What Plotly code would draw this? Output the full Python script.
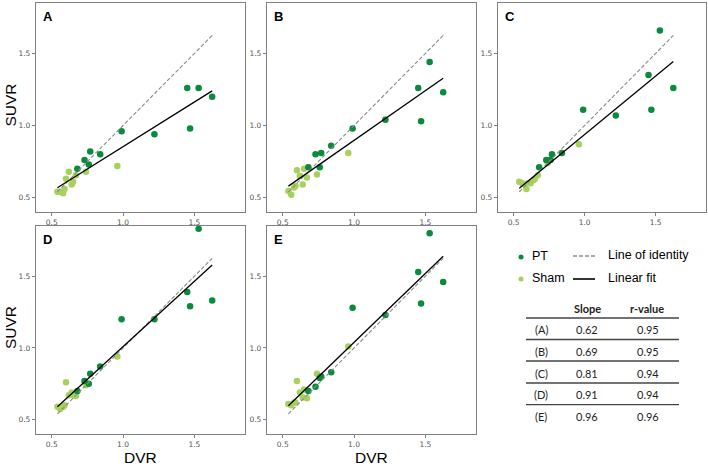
import plotly.graph_objects as go

# ---------------- data ----------------
PANELS = ["A", "B", "C", "D", "E"]
DVR_PT = [0.68, 0.73, 0.76, 0.77, 0.84, 0.99, 1.22, 1.45, 1.47, 1.53, 1.625]
DVR_SHAM = [0.54, 0.56, 0.58, 0.59, 0.60, 0.62, 0.64, 0.65, 0.67, 0.74, 0.96]

SUVR_PT_A = [0.70, 0.76, 0.73, 0.82, 0.80, 0.96, 0.94, 1.26, 0.98, 1.26, 1.20]
SUVR_PT_B = [0.71, 0.80, 0.71, 0.81, 0.86, 0.98, 1.04, 1.26, 1.03, 1.44, 1.23]
SUVR_PT_C = [0.71, 0.76, 0.76, 0.80, 0.81, 1.11, 1.07, 1.35, 1.11, 1.66, 1.26]
SUVR_PT_D = [0.70, 0.77, 0.75, 0.82, 0.87, 1.20, 1.20, 1.39, 1.29, 1.83, 1.33]
SUVR_PT_E = [0.70, 0.73, 0.79, 0.80, 0.83, 1.28, 1.23, 1.53, 1.31, 1.80, 1.46]

SUVR_SHAM_A = [0.54, 0.54, 0.53, 0.56, 0.63, 0.68, 0.59, 0.61, 0.655, 0.68, 0.72]
SUVR_SHAM_B = [0.545, 0.52, 0.57, 0.58, 0.69, 0.65, 0.59, 0.70, 0.64, 0.66, 0.81]
SUVR_SHAM_C = [0.61, 0.60, 0.59, 0.56, 0.60, 0.60, 0.62, 0.63, 0.655, 0.74, 0.87]
SUVR_SHAM_D = [0.59, 0.575, 0.59, 0.60, 0.76, 0.67, 0.69, 0.67, 0.665, 0.74, 0.94]
SUVR_SHAM_E = [0.61, 0.60, 0.62, 0.62, 0.77, 0.69, 0.655, 0.71, 0.65, 0.82, 1.01]

SLOPES = [0.62, 0.69, 0.81, 0.91, 0.96]
INTERCEPTS = [0.233, 0.207, 0.128, 0.099, 0.079]
R_VALUES = [0.95, 0.95, 0.94, 0.94, 0.96]

TICKS = [0.5, 1.0, 1.5]

SUVR_PT = [SUVR_PT_A, SUVR_PT_B, SUVR_PT_C, SUVR_PT_D, SUVR_PT_E]
SUVR_SHAM = [SUVR_SHAM_A, SUVR_SHAM_B, SUVR_SHAM_C, SUVR_SHAM_D, SUVR_SHAM_E]

# ---------------- layout helpers ----------------
W, H = 708, 467
def px(x):
    return x / W
def py(y):
    return 1 - y / H

COLS = [(36, 245), (267, 476), (498, 706)]
ROWS = [(3, 212), (226, 434)]
POS = [(0, 0), (0, 1), (0, 2), (1, 0), (1, 1)]

PT_COLOR = "#0a8a3c"
SHAM_COLOR = "#a8d05c"
AXIS_COLOR = "#808080"
TICK_FONT = dict(family="DejaVu Sans", size=7.5, color="#555555")

fig = go.Figure()
layout = dict(
    width=W, height=H,
    margin=dict(l=0, r=0, t=0, b=0),
    paper_bgcolor="white", plot_bgcolor="white",
    showlegend=False,
)

xmin = min(DVR_PT + DVR_SHAM)
xmax = max(DVR_PT + DVR_SHAM)
annotations = []
shapes = []

def ann(text, x, y, font, xanchor="center", yanchor="middle", **kw):
    d = dict(text=text, xref="paper", yref="paper", x=px(x), y=py(y),
             xanchor=xanchor, yanchor=yanchor, showarrow=False, font=font)
    d.update(kw)
    annotations.append(d)

for i, name in enumerate(PANELS):
    r, c = POS[i]
    xa = "x" if i == 0 else f"x{i+1}"
    ya = "y" if i == 0 else f"y{i+1}"
    xkey = "xaxis" if i == 0 else f"xaxis{i+1}"
    ykey = "yaxis" if i == 0 else f"yaxis{i+1}"
    axcommon = dict(
        range=[0.39, 1.855], tickvals=TICKS, tickformat=".1f",
        showgrid=False, zeroline=False, showline=True, linecolor=AXIS_COLOR,
        linewidth=1.3, mirror=True, ticks="outside", ticklen=3, tickwidth=1,
        tickcolor=AXIS_COLOR, tickfont=TICK_FONT,
    )
    layout[xkey] = dict(axcommon, domain=[px(COLS[c][0]), px(COLS[c][1])], anchor=ya)
    layout[ykey] = dict(axcommon, range=[0.40, 1.85],
                        domain=[py(ROWS[r][1]), py(ROWS[r][0])], anchor=xa)

    fig.add_trace(go.Scatter(
        x=DVR_SHAM, y=SUVR_SHAM[i], mode="markers", xaxis=xa, yaxis=ya,
        marker=dict(color=SHAM_COLOR, size=6.5), name="Sham"))
    fig.add_trace(go.Scatter(
        x=DVR_PT, y=SUVR_PT[i], mode="markers", xaxis=xa, yaxis=ya,
        marker=dict(color=PT_COLOR, size=6.5), name="PT"))
    fig.add_trace(go.Scatter(
        x=[xmin, xmax], y=[xmin, xmax], mode="lines", xaxis=xa, yaxis=ya,
        line=dict(color="#8a8a8a", width=1.1, dash="4px,2px"), name="Line of identity"))
    fig.add_trace(go.Scatter(
        x=[xmin, xmax],
        y=[INTERCEPTS[i] + SLOPES[i] * xmin, INTERCEPTS[i] + SLOPES[i] * xmax],
        mode="lines", xaxis=xa, yaxis=ya,
        line=dict(color="black", width=1.3), name="Linear fit"))

    ann(f"<b>{name}</b>", COLS[c][0] + 5, ROWS[r][0] + 4,
        dict(family="Liberation Sans", size=13, color="black"),
        xanchor="left", yanchor="top")

# axis titles
TITLE_FONT = dict(family="Liberation Sans", size=15.5, color="black")
for r in range(2):
    ann("SUVR", 10, (ROWS[r][0] + ROWS[r][1]) / 2 - 2, TITLE_FONT, textangle=-90)
for c in range(2):
    ann("DVR", (COLS[c][0] + COLS[c][1]) / 2, 457, TITLE_FONT)

# legend
LEG_FONT = dict(family="Liberation Sans", size=12.5, color="black")
for label, color, yy in [("PT", PT_COLOR, 257), ("Sham", SHAM_COLOR, 279)]:
    shapes.append(dict(type="circle", xref="paper", yref="paper",
                       xsizemode="pixel", ysizemode="pixel",
                       xanchor=px(521), yanchor=py(yy),
                       x0=-2.5, x1=2.5, y0=-2.5, y1=2.5,
                       fillcolor=color, line=dict(width=0)))
    ann(label, 530, yy - 1, LEG_FONT, xanchor="left")
shapes.append(dict(type="line", xref="paper", yref="paper", x0=px(573), x1=px(595),
                   y0=py(256), y1=py(256), line=dict(color="#8a8a8a", width=1.3, dash="4px,2px")))
shapes.append(dict(type="line", xref="paper", yref="paper", x0=px(573), x1=px(595),
                   y0=py(279), y1=py(279), line=dict(color="black", width=1.6)))
ann("Line of identity", 606, 255, LEG_FONT, xanchor="left")
ann("Linear fit", 606, 278, LEG_FONT, xanchor="left")

# table
TAB_FONT = dict(family="Lato", size=11, color="#222222")
ann("<b>Slope</b>", 587, 308, TAB_FONT)
ann("<b>r-value</b>", 647, 308, TAB_FONT)
row_y = [329.5, 351, 373, 394.7, 416]
line_y = [318, 339.5, 361, 383, 404.7]
for ly in line_y:
    shapes.append(dict(type="line", xref="paper", yref="paper", x0=px(526), x1=px(679),
                       y0=py(ly), y1=py(ly), line=dict(color="#444444", width=1.3)))
for i, name in enumerate(PANELS):
    ann(f"({name})", 541, row_y[i], TAB_FONT)
    ann(f"{SLOPES[i]:.2f}", 587, row_y[i], TAB_FONT)
    ann(f"{R_VALUES[i]:.2f}", 648, row_y[i], TAB_FONT)

layout["annotations"] = annotations
layout["shapes"] = shapes
fig.update_layout(**layout)
fig.write_html(
    "out.html",
    config={"displayModeBar": False},
    post_script="document.body.style.margin='0px';document.body.style.padding='0px';",
)
